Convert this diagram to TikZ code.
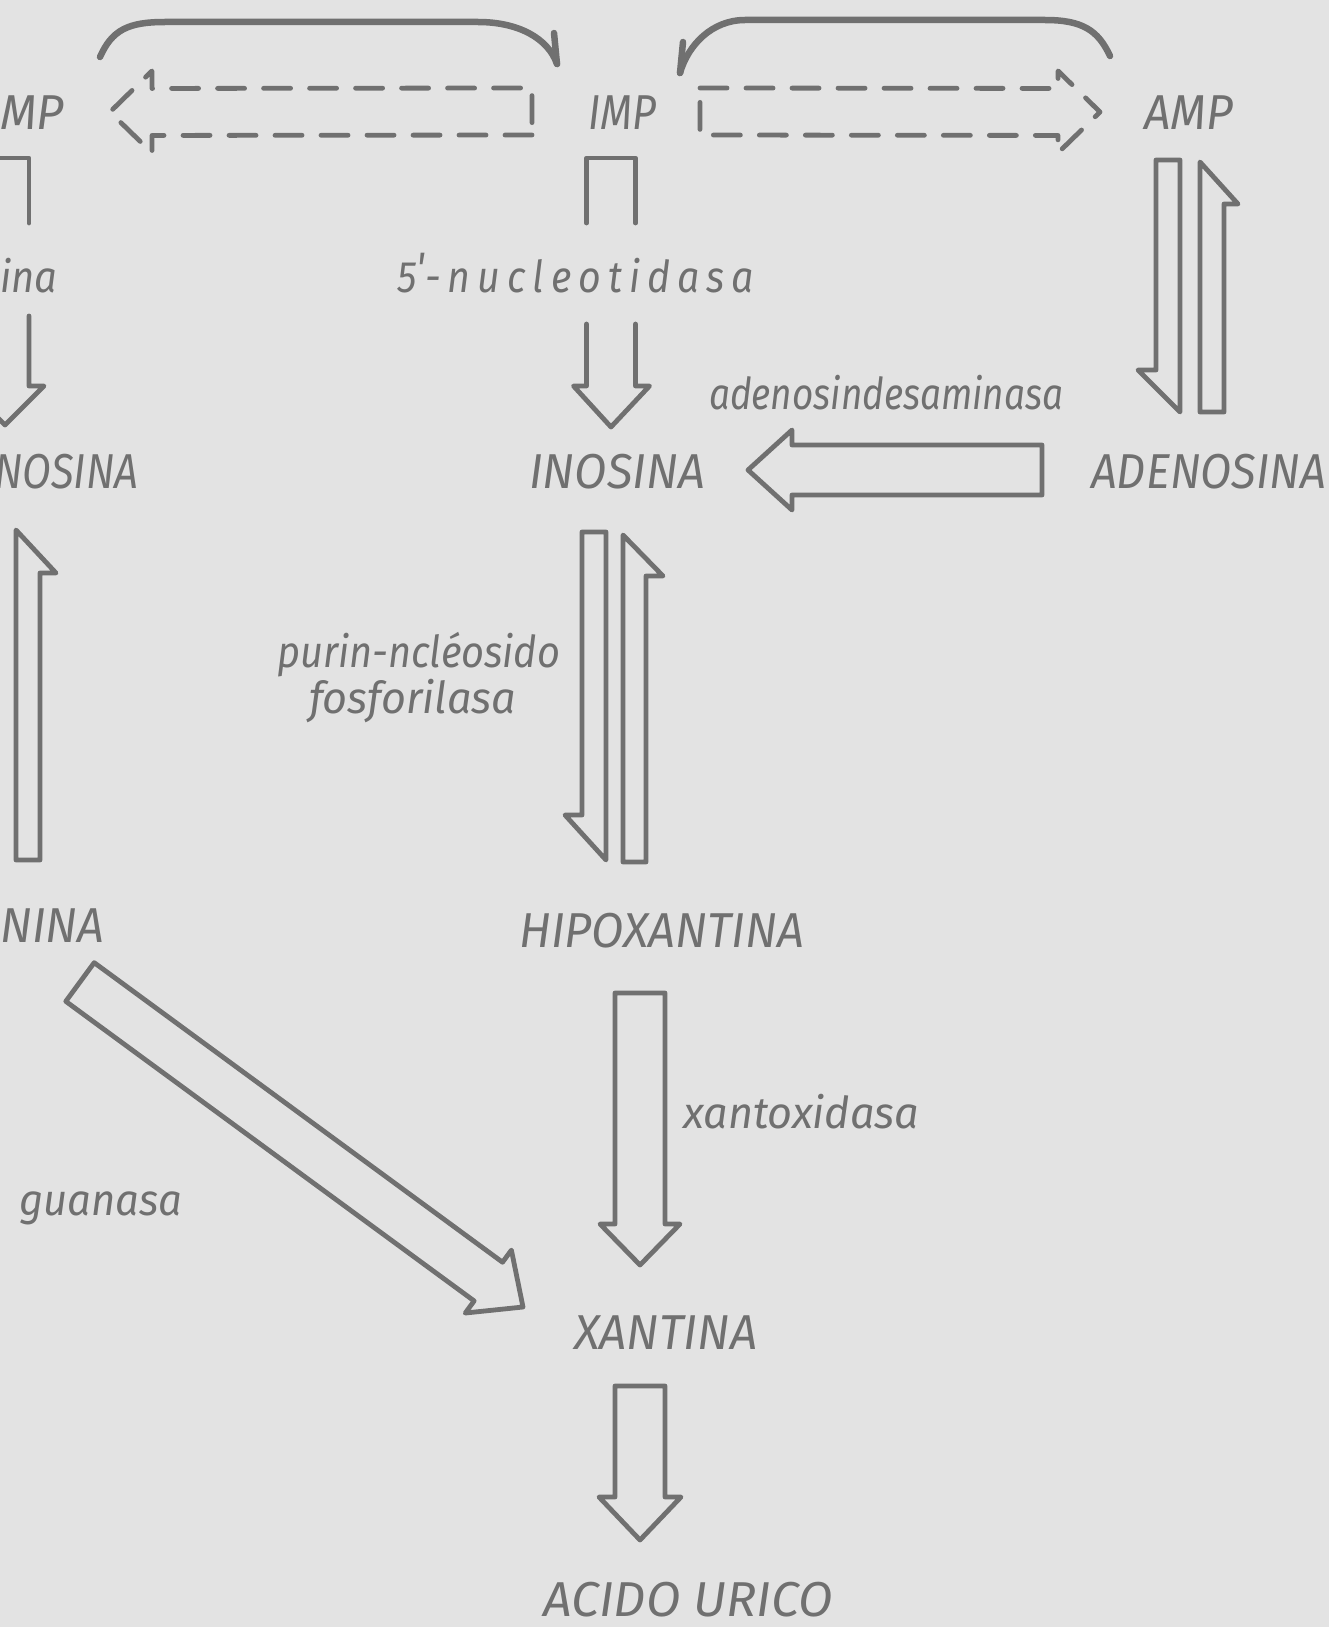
\documentclass[tikz,border=0pt]{standalone}
\usepackage{fontspec}
\usepackage{graphicx}
\usetikzlibrary{calc}
\newfontfamily\lbl{Fira Sans}
\definecolor{ink}{RGB}{112,112,112}
\definecolor{paper}{RGB}{227,227,227}
% #1 opts, #2 tail, #3 tip, #4 shaft +side, #5 shaft -side, #6 head +side, #7 head -side, #8 head length
\newcommand\blockarrow[8]{%
  \coordinate (ba-base) at ($(#3)!#8pt!(#2)$);
  \draw[#1] ($(#2)!#4pt!90:(#3)$) -- ($(ba-base)!#4pt!90:(#3)$) -- ($(ba-base)!#6pt!90:(#3)$) -- (#3)
     -- ($(ba-base)!#7pt!-90:(#3)$) -- ($(ba-base)!#5pt!-90:(#3)$) -- ($(#2)!#5pt!-90:(#3)$) -- cycle;
}
\newcommand\fitw[2]{\resizebox{#1pt}{\height}{#2}}
\begin{document}
\begin{tikzpicture}[x=1pt,y=-1pt,
  blk/.style={draw=ink, line width=4.8pt, line join=round, line cap=round},
  dsh/.style={blk, dash pattern=on 27pt off 19pt},
  curv/.style={draw=ink, line width=6.5pt, line cap=round, line join=round},
  lab/.style={text=ink, inner sep=0pt, anchor=base west, font=\lbl\itshape\fontsize{49}{52}\selectfont},
  labs/.style={lab, font=\lbl\itshape\fontsize{44}{48}\selectfont}]
\useasboundingbox (0,0) rectangle (1329,1627);
\fill[paper] (0,0) rectangle (1329,1627);

% ---------- labels ----------
\node[lab] (gmp) at (0,130) {\fitw{64}{MP}};
\node[lab] (imp) at (588,130) {\fitw{68}{IMP}};
\node[lab] (amp) at (1144,130) {\fitw{89}{AMP}};
\node[labs] (ina) at (0,292) {\fitw{57}{ina}};
\node[labs] (nuc) at (397,292) {\fitw{357}{\addfontfeatures{LetterSpace=18}5\raisebox{0.35ex}{'}-nucleotidasa}};
\node[lab] (guo) at (-6,488) {\fitw{144}{NOSINA}};
\node[lab] (ino) at (529,488) {\fitw{176}{INOSINA}};
\node[lab] (ado) at (1091,488) {\fitw{235}{ADENOSINA}};
\node[labs] (ada) at (709,409) {\fitw{354}{adenosindesaminasa}};
\node[labs] (pnp1) at (277,667) {\fitw{283}{purin-ncléosido}};
\node[labs] (pnp2) at (309,713) {\fitw{207}{fosforilasa}};
\node[lab] (gua) at (0,942) {\fitw{104}{NINA}};
\node[lab] (hyp) at (519,947) {\fitw{285}{HIPOXANTINA}};
\node[labs] (xo) at (683,1128) {\fitw{236}{xantoxidasa}};
\node[labs] (gnase) at (19,1215) {\fitw{163}{guanasa}};
\node[lab] (xan) at (574,1349) {\fitw{183}{XANTINA}};
\node[lab] (uric) at (543,1616) {\fitw{290}{ACIDO URICO}};

% ---------- curved arrows ----------
\coordinate (cl-s) at (100,57);
\coordinate (cl-e) at (557,64);
\draw[curv] (cl-s) .. controls (112,30) and (128,22) .. (165,22) -- (478,22)
   .. controls (518,22) and (548,38) .. (cl-e);
\draw[curv] (cl-e) -- ++(-3,-31);
\coordinate (cr-s) at (1110,56);
\coordinate (cr-e) at (680,73);
\draw[curv] (cr-s) .. controls (1098,30) and (1082,20) .. (1045,20) -- (745,20)
   .. controls (712,20) and (688,45) .. (cr-e);
\draw[curv] (cr-e) -- ++(3,-31);

% ---------- dashed arrows ----------
\coordinate (dl-a) at (532,111.5);
\coordinate (dl-b) at (110,112);
\blockarrow{dsh}{dl-a}{dl-b}{23.5}{23.5}{41}{41}{42}
\coordinate (dr-a) at (700,111.5);
\coordinate (dr-b) at (1100,112);
\blockarrow{dsh}{dr-a}{dr-b}{23.5}{23.5}{41}{41}{42}

% ---------- IMP -> INOSINA (interrupted by label) ----------
\coordinate (imp-s) at (611,158);
\coordinate (ino-in) at (611,427);
\draw[blk] ($(imp-s)+(-24.5,65)$) -- ++(0,-65) -- ++(49,0) -- ++(0,65);
\draw[blk] ($(ino-in)+(-24.5,-103)$) -- ++(0,62) -- ++(-13,0) -- (ino-in) -- ++(38.5,-41) -- ++(-14,0) -- ++(0,-62);

% ---------- GMP -> GUANOSINA (cut at left) ----------
\coordinate (gmp-s) at (5,158);
\coordinate (guo-in) at (5,425);
\draw[blk] ($(gmp-s)+(-24,65)$) -- ++(0,-65) -- ++(48,0) -- ++(0,65);
\draw[blk] ($(guo-in)+(24,-109)$) -- ++(0,70) -- ++(15,0) -- (guo-in) -- ++(-39,-39) -- ++(15,0) -- ++(0,-70);

% ---------- AMP <-> ADENOSINA ----------
\coordinate (amp-d1) at (1180,160);
\coordinate (amp-d2) at (1180,412);
\blockarrow{blk}{amp-d1}{amp-d2}{0}{24}{0}{42}{42}
\coordinate (amp-u1) at (1200,412);
\coordinate (amp-u2) at (1200,162);
\blockarrow{blk}{amp-u1}{amp-u2}{0}{24}{0}{38}{42}

% ---------- ADENOSINA -> INOSINA ----------
\coordinate (ado-o) at (1042,470);
\coordinate (ino-r) at (748,470);
\blockarrow{blk}{ado-o}{ino-r}{25}{25}{40}{40}{44}

% ---------- INOSINA <-> HIPOXANTINA ----------
\coordinate (ino-d1) at (606,532);
\coordinate (ino-d2) at (606,860);
\blockarrow{blk}{ino-d1}{ino-d2}{0}{24}{0}{41}{45}
\coordinate (ino-u1) at (623,862);
\coordinate (ino-u2) at (623,535);
\blockarrow{blk}{ino-u1}{ino-u2}{0}{23}{0}{40}{41}

% ---------- GUANINA -> GUANOSINA ----------
\coordinate (gua-u1) at (16,860);
\coordinate (gua-u2) at (16,530);
\blockarrow{blk}{gua-u1}{gua-u2}{0}{24}{0}{40}{43}

% ---------- GUANINA -> XANTINA ----------
\coordinate (gua-o) at (80,982);
\coordinate (xan-l) at (523,1307);
\blockarrow{blk}{gua-o}{xan-l}{24}{24}{39}{39}{43}

% ---------- HIPOXANTINA -> XANTINA ----------
\coordinate (hyp-o) at (640,993);
\coordinate (xan-t) at (640,1265);
\blockarrow{blk}{hyp-o}{xan-t}{25}{25}{40}{40}{41}

% ---------- XANTINA -> ACIDO URICO ----------
\coordinate (xan-o) at (640,1386);
\coordinate (uric-t) at (640,1540);
\blockarrow{blk}{xan-o}{uric-t}{25}{25}{41}{41}{43}
\end{tikzpicture}
\end{document}
